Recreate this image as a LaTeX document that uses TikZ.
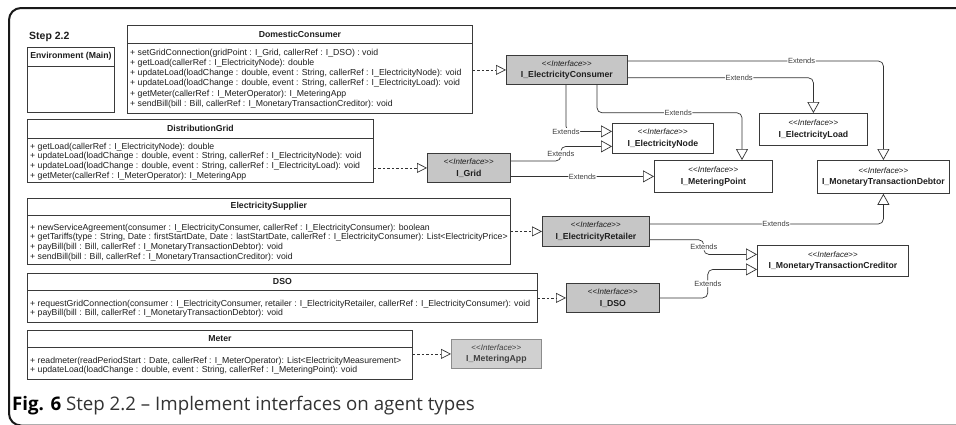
\documentclass[tikz,border=0pt]{standalone}
\usepackage{fontspec}
\setmainfont{Liberation Sans}
\newfontfamily\capfont{Open Sans}
\usetikzlibrary{arrows.meta}
\definecolor{ifill}{HTML}{C6C6C6}
\definecolor{ifilll}{HTML}{D0D0D0}
\definecolor{bord}{HTML}{3A3A3A}
\definecolor{bordl}{HTML}{8C8C8C}
\definecolor{ink}{HTML}{1E1E1E}
\newcommand\lgl{<\kern0pt<}
\newcommand\rgr{>\kern0pt>}
\newcommand\ifc[1]{\lgl\textit{Interface}\rgr\\{\fontsize{8.7}{11.5}\selectfont\bfseries #1}}
\tikzset{
 cls/.style={draw=bord, line width=0.8pt, rectangle, anchor=north west, inner sep=0pt, fill=white},
 ctitle/.style={font=\fontsize{8.7}{10}\selectfont\bfseries, text=ink, inner sep=0pt},
 meth/.style={anchor=north west, align=left, inner sep=0pt, text=ink},
 divline/.style={draw=bord, line width=0.8pt},
 iface/.style={draw=bord, line width=0.8pt, fill=ifill, rectangle, anchor=north west, inner sep=0pt, align=center, text=ink, font=\fontsize{8}{11.5}\selectfont},
 ifacew/.style={iface, fill=white},
 ifacel/.style={iface, fill=ifilll, draw=bordl, text=black!75},
 ext/.style={draw=black!80, line width=0.7pt, rounded corners=5pt, -{Triangle[open, length=11pt, width=12pt]}},
 real/.style={draw=black!80, line width=0.7pt, dash pattern=on 2.5pt off 2pt, -{Triangle[open, length=10pt, width=10pt]}},
 extl/.style={font=\fontsize{7.5}{8}\selectfont, text=black!75, fill=white, inner sep=0.6pt},
}
\begin{document}
\begin{tikzpicture}[x=1pt,y=-1pt]
\useasboundingbox (0,0) rectangle (956,424);
\fill[white] (0,0) rectangle (956,424);
\draw[line width=2pt, draw=black!90, rounded corners=12pt] (9,8) rectangle (990,425.5);

\node[anchor=base west, inner sep=0pt, font=\bfseries\fontsize{10.5}{12}\selectfont, text=ink] (step) at (29,39) {Step 2.2};

% Environment
\node[cls, minimum width=87pt, minimum height=65pt] (env) at (27,47) {};
\draw[divline] ([yshift=-19pt]env.north west) -- ([yshift=-19pt]env.north east);
\node[ctitle] (envt) at ([yshift=-9.5pt]env.north) {Environment (Main)};

% DomesticConsumer
\node[cls, minimum width=345pt, minimum height=88pt] (dc) at (127,25) {};
\draw[divline] ([yshift=-18pt]dc.north west) -- ([yshift=-18pt]dc.north east);
\node[ctitle] (dct) at ([yshift=-9pt]dc.north) {DomesticConsumer};
\node[meth, font=\fontsize{8.7}{10.2}\selectfont] (dcm) at ([xshift=3pt,yshift=-23.7pt]dc.north west) {%
+ setGridConnection(gridPoint : I\_Grid, callerRef : I\_DSO) : void\\
+ getLoad(callerRef : I\_ElectricityNode): double\\
+ updateLoad(loadChange : double, event : String, callerRef : I\_ElectricityNode): void\\
+ updateLoad(loadChange : double, event : String, callerRef : I\_ElectricityLoad): void\\
+ getMeter(callerRef : I\_MeterOperator): I\_MeteringApp\\
+ sendBill(bill : Bill, callerRef : I\_MonetaryTransactionCreditor): void};

% DistributionGrid
\node[cls, minimum width=346pt, minimum height=63pt] (dg) at (27,119) {};
\draw[divline] ([yshift=-19pt]dg.north west) -- ([yshift=-19pt]dg.north east);
\node[ctitle] (dgt) at ([yshift=-9.5pt]dg.north) {DistributionGrid};
\node[meth, font=\fontsize{8.7}{9.7}\selectfont] (dgm) at ([xshift=3pt,yshift=-23.7pt]dg.north west) {%
+ getLoad(callerRef : I\_ElectricityNode): double\\
+ updateLoad(loadChange : double, event : String, callerRef : I\_ElectricityNode): void\\
+ updateLoad(loadChange : double, event : String, callerRef : I\_ElectricityLoad): void\\
+ getMeter(callerRef : I\_MeterOperator): I\_MeteringApp};

% ElectricitySupplier
\node[cls, minimum width=483pt, minimum height=66pt] (es) at (27,198) {};
\draw[divline] ([yshift=-17pt]es.north west) -- ([yshift=-17pt]es.north east);
\node[ctitle] (est) at ([yshift=-8.5pt]es.north) {ElectricitySupplier};
\node[meth, font=\fontsize{8.7}{9.6}\selectfont] (esm) at ([xshift=3pt,yshift=-25.7pt]es.north west) {%
+ newServiceAgreement(consumer : I\_ElectricityConsumer, callerRef : I\_ElectricityConsumer): boolean\\
+ getTariffs(type : String, Date : firstStartDate, Date : lastStartDate, callerRef : I\_ElectricityConsumer): List<ElectricityPrice>\\
+ payBill(bill : Bill, callerRef : I\_MonetaryTransactionDebtor): void\\
+ sendBill(bill : Bill, callerRef : I\_MonetaryTransactionCreditor): void};

% DSO
\node[cls, minimum width=510pt, minimum height=49pt] (dso) at (27,273) {};
\draw[divline] ([yshift=-17pt]dso.north west) -- ([yshift=-17pt]dso.north east);
\node[ctitle] (dsot) at ([yshift=-8pt]dso.north) {DSO};
\node[meth, font=\fontsize{8.7}{9.2}\selectfont] (dsom) at ([xshift=3pt,yshift=-26.7pt]dso.north west) {%
+ requestGridConnection(consumer : I\_ElectricityConsumer, retailer : I\_ElectricityRetailer, callerRef : I\_ElectricityConsumer): void\\
+ payBill(bill : Bill, callerRef : I\_MonetaryTransactionDebtor): void};

% Meter
\node[cls, minimum width=385pt, minimum height=49pt] (meter) at (27,330) {};
\draw[divline] ([yshift=-17pt]meter.north west) -- ([yshift=-17pt]meter.north east);
\node[ctitle] (metert) at ([yshift=-9pt]meter.north) {Meter};
\node[meth, font=\fontsize{8.7}{9.2}\selectfont] (meterm) at ([xshift=3pt,yshift=-26.7pt]meter.north west) {%
+ readmeter(readPeriodStart : Date, callerRef : I\_MeterOperator): List<ElectricityMeasurement>\\
+ updateLoad(loadChange : double, event : String, callerRef : I\_MeteringPoint): void};

% Interfaces
\node[iface, minimum width=121pt, minimum height=29pt] (iec) at (506,55) {\ifc{I\_ElectricityConsumer}};
\node[iface, minimum width=83pt, minimum height=29pt] (igrid) at (427,153) {\ifc{I\_Grid}};
\node[iface, minimum width=107pt, minimum height=30pt] (iret) at (542,216) {\ifc{I\_ElectricityRetailer}};
\node[iface, minimum width=93pt, minimum height=29pt] (idso) at (566,283) {\ifc{I\_DSO}};
\node[ifacel, minimum width=90pt, minimum height=29pt] (iapp) at (451,339) {\ifc{I\_MeteringApp}};
\node[ifacew, minimum width=101pt, minimum height=30pt] (inode) at (612,123) {\ifc{I\_ElectricityNode}};
\node[ifacew, minimum width=118pt, minimum height=32pt] (imp) at (654,160) {\ifc{I\_MeteringPoint}};
\node[ifacew, minimum width=108pt, minimum height=32pt] (iload) at (759,113) {\ifc{I\_ElectricityLoad}};
\node[ifacew, minimum width=132pt, minimum height=33pt] (idebt) at (817,160) {\ifc{I\_MonetaryTransactionDebtor}};
\node[ifacew, minimum width=151pt, minimum height=31pt] (icred) at (757,245) {\ifc{I\_MonetaryTransactionCreditor}};

% Realizations
\draw[real] (dc.east |- iec.west) -- (iec.west);
\draw[real] (dg.east |- igrid.west) -- (igrid.west);
\draw[real] (es.east |- iret.west) -- (iret.west);
\draw[real] (dso.east |- idso.west) -- (idso.west);
\draw[real] (meter.east |- iapp.west) -- (iapp.west);

% Extends
\draw[ext] ([yshift=-6pt]iec.north east) -| (idebt.north) node[extl, pos=0.34] {Extends};
\draw[ext] ([yshift=7pt]iec.south east) -| (iload.north) node[extl, pos=0.3] {Extends};
\draw[ext] ([xshift=60pt]iec.south west) |- ([yshift=7pt]inode.west) node[extl, pos=0.5] {Extends};
\draw[ext] ([xshift=91pt]iec.south west) -- ++(0,28) -| ([xshift=88pt]imp.north west) node[extl, pos=0.28] {Extends};
\draw[ext] ([yshift=-8pt]igrid.north east) -- ++(50,0) |- ([yshift=-8pt]inode.west) node[extl, pos=0.25] {Extends};
\draw[ext] (igrid.east |- imp.west) -- (imp.west) node[extl, pos=0.5] {Extends};
\draw[ext] ([yshift=-8pt]iret.north east) -| (idebt.south) node[extl, pos=0.27] {Extends};
\draw[ext] ([yshift=7pt]iret.south east) -- ++(54,0) |- ([yshift=6.5pt]icred.west) node[extl, pos=0.25] {Extends};
\draw[ext] (idso.east) -- ++(48,0) |- ([yshift=-8.5pt]icred.west) node[extl, pos=0.25] {Extends};

% Caption
\node[anchor=base west, inner sep=0pt, font=\capfont\fontsize{18.7}{22}\selectfont, text=black!80] (cap) at (12,410) {{\color{black}\textbf{Fig. 6}} Step 2.2 – Implement interfaces on agent types};
\end{tikzpicture}
\end{document}
